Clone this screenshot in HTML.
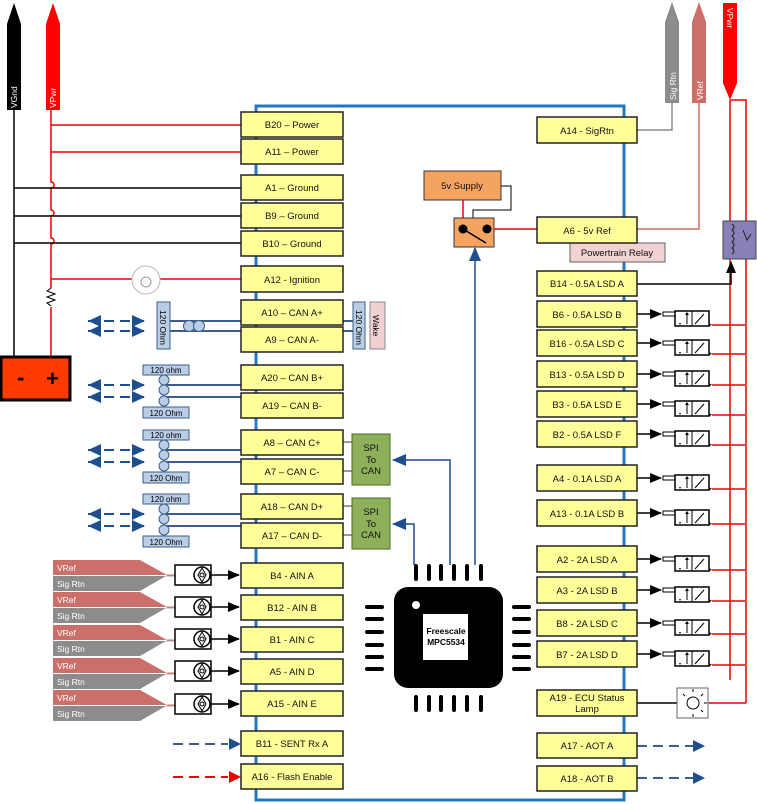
<!DOCTYPE html>
<html><head><meta charset="utf-8"><style>
body{margin:0;background:#fff}
svg{display:block;font-family:"Liberation Sans",sans-serif}
.b{fill:#ffff99;stroke:#222;stroke-width:1.5}
.t{font-size:9.5px;text-anchor:middle;fill:#111}
.s{font-size:8.5px;fill:#fff}
</style></head><body>
<svg width="757" height="804" viewBox="0 0 757 804" xmlns="http://www.w3.org/2000/svg">
<defs>
<marker id="ak" markerWidth="12" markerHeight="10" refX="11" refY="5" orient="auto" markerUnits="userSpaceOnUse"><path d="M0,0L12,5L0,10z" fill="#000"/></marker>
<marker id="an" markerWidth="14" markerHeight="12" refX="13" refY="6" orient="auto" markerUnits="userSpaceOnUse"><path d="M0,0L14,6L0,12z" fill="#1f4e8c"/></marker>
<g id="valve">
<line x1="0" y1="0" x2="24" y2="0" stroke="#000" stroke-width="1.5" marker-end="url(#ak)"/>
<rect x="26" y="-2" width="12" height="4" fill="#fff" stroke="#000"/>
<rect x="38" y="-3" width="34" height="15" fill="#fff" stroke="#000" stroke-width="1.5"/>
<line x1="55" y1="-3" x2="55" y2="12" stroke="#000"/>
<line x1="50" y1="10" x2="50" y2="-1" stroke="#000"/><path d="M48,1L50,-2L52,1z"/>
<line x1="58" y1="10" x2="67" y2="0" stroke="#000"/>
<path d="M42,9h2l-1,2z M72,9l3,2l-3,1z"/>
<line x1="75" y1="11" x2="108" y2="11" stroke="#e00" stroke-width="1.5"/>
</g>
<g id="sens">
<rect x="0" y="0" width="36" height="20" fill="#fff" stroke="#000" stroke-width="1.5"/>
<circle cx="27" cy="10" r="8" fill="#fff" stroke="#000" stroke-width="1.5"/>
<path d="M27,3L31,10L27,17L23,10z" fill="none" stroke="#000"/><circle cx="27" cy="10" r="2" fill="#fff" stroke="#000"/>
<line x1="36" y1="10" x2="64" y2="10" stroke="#000" stroke-width="1.5" marker-end="url(#ak)"/>
</g>
<g id="vref">
<path d="M0,0H87L114,15H0z" fill="#cc6f68"/>
<path d="M0,16H113L87,31H0z" fill="#8c8c8c"/>
<path d="M114,15H122V8" fill="none" stroke="#cc6f68"/>
<path d="M113,16H122V20" fill="none" stroke="#aaa"/>
</g>
<g id="canarr">
<line x1="0" y1="0" x2="56" y2="0" stroke="#1f4e8c" stroke-width="2" stroke-dasharray="10,6"/>
<path d="M0,0L13,-6L13,6z M57,0L44,-6L44,6z" fill="#1f4e8c"/>
</g>
</defs>

<rect x="256" y="106" width="368" height="694" fill="none" stroke="#1f78c0" stroke-width="3"/>

<path d="M7,110V24L14,3L21,24V110z" fill="#000"/>
<text class="s" transform="translate(17,108) rotate(-90)">VGnd</text>
<path d="M46,110V24L53,3L60,24V110z" fill="#f00"/>
<text class="s" transform="translate(56,108) rotate(-90)">VPwr</text>
<line x1="14" y1="110" x2="14" y2="357" stroke="#000" stroke-width="1.5"/>
<path d="M51,110V182a3,3 0 0 1 0,6V210a3,3 0 0 1 0,6V238a3,3 0 0 1 0,6V288" fill="none" stroke="#e00" stroke-width="1.5"/>
<path d="M51,288l-4,3l8,3l-8,3l8,3l-8,3l4,3" fill="none" stroke="#000"/>
<line x1="51" y1="307" x2="51" y2="357" stroke="#e00" stroke-width="1.5"/>
<g stroke-width="1.5">
<line x1="51" y1="125" x2="241" y2="125" stroke="#e00"/>
<line x1="51" y1="152" x2="241" y2="152" stroke="#e00"/>
<line x1="14" y1="188" x2="241" y2="188" stroke="#000"/>
<line x1="14" y1="216" x2="241" y2="216" stroke="#000"/>
<line x1="14" y1="243" x2="241" y2="243" stroke="#000"/>
<line x1="51" y1="279" x2="132" y2="279" stroke="#e00"/>
<line x1="160" y1="279" x2="241" y2="279" stroke="#e00"/>
</g>
<circle cx="146" cy="280" r="14" fill="#fff" stroke="#bbb"/>
<circle cx="146" cy="282" r="5" fill="#fff" stroke="#999"/>
<rect x="1" y="357" width="69" height="43" fill="#ff3b00" stroke="#000" stroke-width="3"/>
<text x="17" y="385" font-size="22" font-weight="bold" fill="#000">-</text>
<text x="46" y="386" font-size="22" font-weight="bold" fill="#000">+</text>

<use href="#canarr" x="88" y="321"/><use href="#canarr" x="88" y="331"/>
<line x1="170" y1="321" x2="241" y2="321" stroke="#3c5e8c" stroke-width="2"/>
<line x1="170" y1="331" x2="241" y2="331" stroke="#3c5e8c" stroke-width="2"/>
<circle cx="189" cy="326" r="5.5" fill="#b9cde5" stroke="#3c5e8c"/><circle cx="199" cy="326" r="5.5" fill="#b9cde5" stroke="#3c5e8c"/>
<rect x="157" y="302" width="13" height="47" fill="#b9cde5" stroke="#3c5e8c"/>
<text transform="translate(160,310) rotate(90)" font-size="8.5">120 Ohm</text>
<line x1="343" y1="321" x2="353" y2="321" stroke="#3c5e8c" stroke-width="2"/>
<line x1="343" y1="331" x2="353" y2="331" stroke="#3c5e8c" stroke-width="2"/>
<rect x="353" y="302" width="12" height="47" fill="#b9cde5" stroke="#3c5e8c"/>
<text transform="translate(356,310) rotate(90)" font-size="8.5">120 Ohm</text>
<rect x="370" y="302" width="15" height="47" fill="#f0d0d0" stroke="#888"/>
<text transform="translate(373,315) rotate(90)" font-size="8.5">Wake</text>

<g>
<use href="#canarr" x="88" y="385"/><use href="#canarr" x="88" y="397"/>
<line x1="164" y1="385" x2="241" y2="385" stroke="#3c5e8c" stroke-width="2"/>
<line x1="164" y1="397" x2="241" y2="397" stroke="#3c5e8c" stroke-width="2"/>
<circle cx="164" cy="380" r="5" fill="#b9cde5" stroke="#3c5e8c"/><circle cx="164" cy="390" r="5" fill="#b9cde5" stroke="#3c5e8c"/><circle cx="164" cy="401" r="5" fill="#b9cde5" stroke="#3c5e8c"/>
<rect x="143" y="365" width="46" height="10" fill="#b9cde5" stroke="#3c5e8c"/><text x="166" y="373" font-size="8" text-anchor="middle">120 ohm</text>
<rect x="143" y="407" width="46" height="11" fill="#b9cde5" stroke="#3c5e8c"/><text x="166" y="416" font-size="8" text-anchor="middle">120 Ohm</text>
</g>
<g transform="translate(0,65)">
<use href="#canarr" x="88" y="385"/><use href="#canarr" x="88" y="397"/>
<line x1="164" y1="385" x2="241" y2="385" stroke="#3c5e8c" stroke-width="2"/>
<line x1="164" y1="397" x2="241" y2="397" stroke="#3c5e8c" stroke-width="2"/>
<circle cx="164" cy="380" r="5" fill="#b9cde5" stroke="#3c5e8c"/><circle cx="164" cy="390" r="5" fill="#b9cde5" stroke="#3c5e8c"/><circle cx="164" cy="401" r="5" fill="#b9cde5" stroke="#3c5e8c"/>
<rect x="143" y="365" width="46" height="10" fill="#b9cde5" stroke="#3c5e8c"/><text x="166" y="373" font-size="8" text-anchor="middle">120 ohm</text>
<rect x="143" y="407" width="46" height="11" fill="#b9cde5" stroke="#3c5e8c"/><text x="166" y="416" font-size="8" text-anchor="middle">120 Ohm</text>
</g>
<g transform="translate(0,129)">
<use href="#canarr" x="88" y="385"/><use href="#canarr" x="88" y="397"/>
<line x1="164" y1="385" x2="241" y2="385" stroke="#3c5e8c" stroke-width="2"/>
<line x1="164" y1="397" x2="241" y2="397" stroke="#3c5e8c" stroke-width="2"/>
<circle cx="164" cy="380" r="5" fill="#b9cde5" stroke="#3c5e8c"/><circle cx="164" cy="390" r="5" fill="#b9cde5" stroke="#3c5e8c"/><circle cx="164" cy="401" r="5" fill="#b9cde5" stroke="#3c5e8c"/>
<rect x="143" y="365" width="46" height="10" fill="#b9cde5" stroke="#3c5e8c"/><text x="166" y="373" font-size="8" text-anchor="middle">120 ohm</text>
<rect x="143" y="407" width="46" height="11" fill="#b9cde5" stroke="#3c5e8c"/><text x="166" y="416" font-size="8" text-anchor="middle">120 Ohm</text>
</g>

<g stroke="#777" stroke-width="1.5">
<line x1="343" y1="442" x2="352" y2="442"/><line x1="343" y1="471" x2="352" y2="471"/>
<line x1="343" y1="506" x2="352" y2="506"/><line x1="343" y1="535" x2="352" y2="535"/>
</g>
<rect x="352" y="434" width="38" height="51" fill="#8fb05a" stroke="#4a6a2a"/>
<text class="t" x="371" y="451">SPI</text><text class="t" x="371" y="463">To</text><text class="t" x="371" y="474">CAN</text>
<rect x="352" y="498" width="38" height="51" fill="#8fb05a" stroke="#4a6a2a"/>
<text class="t" x="371" y="515">SPI</text><text class="t" x="371" y="527">To</text><text class="t" x="371" y="538">CAN</text>
<g fill="none" stroke="#1f4e8c" stroke-width="1.5">
<path d="M450,565V460H393" marker-end="url(#an)"/>
<path d="M414,565V524H393" marker-end="url(#an)"/>
<path d="M475,565V248" marker-end="url(#an)"/>
</g>

<rect x="394" y="587" width="109" height="101" rx="14" fill="#000"/>
<circle cx="416" cy="605" r="4" fill="#fff"/>
<rect x="423" y="614" width="45" height="46" fill="#fff"/>
<text x="446" y="634" font-size="8.5" font-weight="bold" text-anchor="middle">Freescale</text>
<text x="446" y="645" font-size="8.5" font-weight="bold" text-anchor="middle">MPC5534</text>
<g stroke="#000" stroke-width="4" stroke-linecap="round">
<path d="M416,566v13M429,566v13M441,566v13M454,566v13M467,566v13M481,566v13"/>
<path d="M416,697v13M429,697v13M441,697v13M454,697v13M467,697v13M481,697v13"/>
<path d="M367,607h15M367,619h15M367,632h15M367,645h15M367,657h15M367,669h15"/>
<path d="M514,607h15M514,619h15M514,632h15M514,645h15M514,657h15M514,669h15"/>
</g>

<rect x="424" y="171" width="77" height="29" fill="#f4a460" stroke="#333"/>
<text class="t" x="462" y="189">5v Supply</text>
<path d="M501,186h10v24h-38v8" fill="none" stroke="#000"/>
<line x1="463" y1="200" x2="463" y2="218" stroke="#e00" stroke-width="1.5"/>
<rect x="454" y="218" width="40" height="29" fill="#f4a460" stroke="#333"/>
<circle cx="463" cy="229" r="4.5"/><circle cx="487" cy="229" r="4.5"/>
<line x1="463" y1="229" x2="486" y2="243" stroke="#000" stroke-width="1.5"/>
<line x1="494" y1="229" x2="537" y2="229" stroke="#e00" stroke-width="1.5"/>

<path d="M665,103V22L672,2L679,22V103z" fill="#8c8c8c"/>
<text class="s" transform="translate(676,100) rotate(-90)">Sig Rtn</text>
<path d="M692,103V22L699,2L706,22V103z" fill="#cc6f68"/>
<text class="s" transform="translate(703,100) rotate(-90)">VRef</text>
<path d="M723,3H737V83L730,100L723,83z" fill="#f00"/>
<text class="s" transform="translate(727,8) rotate(90)">VPwr</text>
<path d="M637,130H672V103" fill="none" stroke="#8c8c8c" stroke-width="1.5"/>
<path d="M637,229H699V103" fill="none" stroke="#cc6f68" stroke-width="1.5"/>
<path d="M730,100V680M730,100H746V680" fill="none" stroke="#e00" stroke-width="1.5"/>
<rect x="723" y="221" width="33" height="38" fill="#8a80b8" stroke="#444"/>
<path d="M732,224q4,3 0,6q4,3 0,6q4,3 0,6q4,3 0,6q4,3 0,6" fill="none" stroke="#222"/>
<path d="M743,230l4,10l4,-6" fill="none" stroke="#222"/>
<rect x="570" y="243" width="95" height="19" fill="#f2d3d3" stroke="#666"/>
<text class="t" x="617" y="256">Powertrain Relay</text>
<path d="M637,284H731V262" fill="none" stroke="#000" stroke-width="1.5" marker-end="url(#ak)"/>

<use href="#valve" x="637" y="314"/>
<use href="#valve" x="637" y="343"/>
<use href="#valve" x="637" y="374"/>
<use href="#valve" x="637" y="404"/>
<use href="#valve" x="637" y="434"/>
<use href="#valve" x="637" y="478"/>
<use href="#valve" x="637" y="513"/>
<use href="#valve" x="637" y="559"/>
<use href="#valve" x="637" y="590"/>
<use href="#valve" x="637" y="623"/>
<use href="#valve" x="637" y="654"/>
<line x1="746" y1="680" x2="746" y2="703" stroke="#e00" stroke-width="1.5"/>
<line x1="708" y1="703" x2="746" y2="703" stroke="#e00" stroke-width="1.5"/>
<line x1="637" y1="703" x2="677" y2="703" stroke="#000" stroke-width="1.5"/>
<rect x="677" y="688" width="31" height="30" fill="#fff" stroke="#666"/>
<circle cx="693" cy="703" r="6" fill="#fff" stroke="#000"/>
<path d="M693,692v-3M701,696l2,-2M704,703h3M701,710l2,2M693,714v3M685,696l-2,-2" stroke="#000"/>
<g fill="none" stroke="#3c5e8c" stroke-width="2" stroke-dasharray="10,6">
<line x1="637" y1="746" x2="695" y2="746"/><line x1="637" y1="778" x2="695" y2="778"/>
<line x1="173" y1="744" x2="228" y2="744"/>
</g>
<path d="M693,740l12,6l-12,6z M693,772l12,6l-12,6z M229,738l12,6l-12,6z" fill="#1f4e8c"/>
<line x1="173" y1="777" x2="228" y2="777" stroke="#e00" stroke-width="2" stroke-dasharray="10,6"/>
<path d="M229,771l12,6l-12,6z" fill="#e00"/>

<g font-size="8.5" fill="#fff">
<g transform="translate(53,560)"><use href="#vref"/><text x="4" y="11">VRef</text><text x="4" y="27">Sig Rtn</text></g>
<g transform="translate(53,592)"><use href="#vref"/><text x="4" y="11">VRef</text><text x="4" y="27">Sig Rtn</text></g>
<g transform="translate(53,625)"><use href="#vref"/><text x="4" y="11">VRef</text><text x="4" y="27">Sig Rtn</text></g>
<g transform="translate(53,658)"><use href="#vref"/><text x="4" y="11">VRef</text><text x="4" y="27">Sig Rtn</text></g>
<g transform="translate(53,690)"><use href="#vref"/><text x="4" y="11">VRef</text><text x="4" y="27">Sig Rtn</text></g>
</g>
<use href="#sens" x="175" y="565"/>
<use href="#sens" x="175" y="597"/>
<use href="#sens" x="175" y="629"/>
<use href="#sens" x="175" y="661"/>
<use href="#sens" x="175" y="694"/>

<g>
<rect class="b" x="241" y="112" width="102" height="25"/><text class="t" x="292" y="128">B20 – Power</text>
<rect class="b" x="241" y="139" width="102" height="25"/><text class="t" x="292" y="155">A11 – Power</text>
<rect class="b" x="241" y="175" width="102" height="25"/><text class="t" x="292" y="191">A1 – Ground</text>
<rect class="b" x="241" y="203" width="102" height="25"/><text class="t" x="292" y="219">B9 – Ground</text>
<rect class="b" x="241" y="231" width="102" height="25"/><text class="t" x="292" y="247">B10 – Ground</text>
<rect class="b" x="241" y="266" width="102" height="26"/><text class="t" x="292" y="283">A12 - Ignition</text>
<rect class="b" x="241" y="300" width="102" height="25"/><text class="t" x="292" y="316">A10 – CAN A+</text>
<rect class="b" x="241" y="327" width="102" height="25"/><text class="t" x="292" y="343">A9 – CAN A-</text>
<rect class="b" x="241" y="365" width="102" height="25"/><text class="t" x="292" y="381">A20 – CAN B+</text>
<rect class="b" x="241" y="393" width="102" height="25"/><text class="t" x="292" y="409">A19 – CAN B-</text>
<rect class="b" x="241" y="430" width="102" height="25"/><text class="t" x="292" y="446">A8 – CAN C+</text>
<rect class="b" x="241" y="459" width="102" height="25"/><text class="t" x="292" y="475">A7 – CAN C-</text>
<rect class="b" x="241" y="494" width="102" height="25"/><text class="t" x="292" y="510">A18 – CAN D+</text>
<rect class="b" x="241" y="523" width="102" height="25"/><text class="t" x="292" y="539">A17 – CAN D-</text>
<rect class="b" x="241" y="563" width="102" height="25"/><text class="t" x="292" y="579">B4 - AIN A</text>
<rect class="b" x="241" y="595" width="102" height="25"/><text class="t" x="292" y="611">B12 - AIN B</text>
<rect class="b" x="241" y="627" width="102" height="25"/><text class="t" x="292" y="643">B1 - AIN C</text>
<rect class="b" x="241" y="659" width="102" height="25"/><text class="t" x="292" y="675">A5 - AIN D</text>
<rect class="b" x="241" y="691" width="102" height="25"/><text class="t" x="292" y="707">A15 - AIN E</text>
<rect class="b" x="241" y="731" width="102" height="25"/><text class="t" x="292" y="747">B11 - SENT Rx A</text>
<rect class="b" x="241" y="764" width="102" height="25"/><text class="t" x="292" y="780">A16 - Flash Enable</text>
</g>
<g>
<rect class="b" x="537" y="117" width="100" height="26"/><text class="t" x="587" y="134">A14 - SigRtn</text>
<rect class="b" x="537" y="217" width="100" height="26"/><text class="t" x="587" y="234">A6 - 5v Ref</text>
<rect class="b" x="537" y="271" width="100" height="25"/><text class="t" x="587" y="287">B14 - 0.5A LSD A</text>
<rect class="b" x="537" y="301" width="100" height="26"/><text class="t" x="587" y="318">B6 - 0.5A LSD B</text>
<rect class="b" x="537" y="330" width="100" height="26"/><text class="t" x="587" y="347">B16 - 0.5A LSD C</text>
<rect class="b" x="537" y="361" width="100" height="26"/><text class="t" x="587" y="378">B13 - 0.5A LSD D</text>
<rect class="b" x="537" y="391" width="100" height="26"/><text class="t" x="587" y="408">B3 - 0.5A LSD E</text>
<rect class="b" x="537" y="421" width="100" height="26"/><text class="t" x="587" y="438">B2 - 0.5A LSD F</text>
<rect class="b" x="537" y="465" width="100" height="26"/><text class="t" x="587" y="482">A4 - 0.1A LSD A</text>
<rect class="b" x="537" y="500" width="100" height="26"/><text class="t" x="587" y="517">A13 - 0.1A LSD B</text>
<rect class="b" x="537" y="546" width="100" height="26"/><text class="t" x="587" y="563">A2 - 2A LSD A</text>
<rect class="b" x="537" y="577" width="100" height="26"/><text class="t" x="587" y="594">A3 - 2A LSD B</text>
<rect class="b" x="537" y="610" width="100" height="26"/><text class="t" x="587" y="627">B8 - 2A LSD C</text>
<rect class="b" x="537" y="641" width="100" height="26"/><text class="t" x="587" y="658">B7 - 2A LSD D</text>
<rect class="b" x="537" y="690" width="100" height="26"/><text class="t" x="587" y="701">A19 - ECU Status</text><text class="t" x="587" y="712">Lamp</text>
<rect class="b" x="537" y="733" width="100" height="25"/><text class="t" x="587" y="749">A17 - AOT A</text>
<rect class="b" x="537" y="766" width="100" height="25"/><text class="t" x="587" y="782">A18 - AOT B</text>
</g>
</svg>
</body></html>
